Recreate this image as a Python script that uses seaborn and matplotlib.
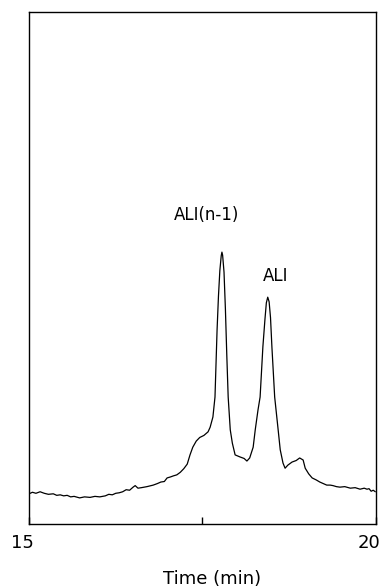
import pandas as pd
import matplotlib.pyplot as plt
import matplotlib.transforms as mtransforms
import seaborn as sns

# Datos del cromatograma
tiempo = [15.00, 15.05, 15.10, 15.16, 15.22, 15.28, 15.35, 15.40, 15.45, 15.50,
          15.55, 15.60, 15.65, 15.73, 15.80, 15.88, 15.95, 16.02, 16.10, 16.15,
          16.20, 16.25, 16.30, 16.35, 16.40, 16.45, 16.50, 16.53, 16.57, 16.62,
          16.70, 16.79, 16.85, 16.90, 16.95, 16.99, 17.04, 17.08, 17.13, 17.18,
          17.23, 17.28, 17.32, 17.36, 17.41, 17.46, 17.52, 17.58, 17.61, 17.65,
          17.68, 17.71, 17.73, 17.75, 17.77, 17.78, 17.79, 17.81, 17.83, 17.85,
          17.87, 17.90, 17.93, 17.97, 18.04, 18.10, 18.14, 18.18, 18.23, 18.26,
          18.30, 18.33, 18.37, 18.40, 18.42, 18.44, 18.46, 18.48, 18.50, 18.54,
          18.59, 18.62, 18.66, 18.69, 18.73, 18.79, 18.85, 18.90, 18.95, 18.98,
          19.03, 19.08, 19.14, 19.19, 19.24, 19.29, 19.34, 19.38, 19.43, 19.48,
          19.55, 19.63, 19.70, 19.77, 19.83, 19.87, 19.90, 19.93, 19.96, 19.99]
senal = [5.9, 6.2, 6.0, 6.3, 6.0, 5.8, 5.9, 5.6, 5.7, 5.5,
         5.6, 5.3, 5.4, 5.1, 5.3, 5.2, 5.4, 5.3, 5.5, 5.8,
         5.7, 6.0, 6.1, 6.3, 6.7, 6.6, 7.2, 7.5, 7.0, 7.1,
         7.3, 7.6, 7.9, 8.2, 8.3, 9.0, 9.2, 9.4, 9.6, 10.1,
         10.8, 11.7, 13.5, 15.0, 16.2, 16.9, 17.3, 18.0, 18.9, 20.9,
         24.8, 37.9, 44.5, 49.5, 52.4, 53.1, 52.5, 49.2, 42.0, 33.0,
         24.8, 18.4, 15.8, 13.5, 13.1, 12.8, 12.3, 12.9, 15.0, 18.4,
         22.3, 24.8, 34.6, 40.0, 43.2, 44.3, 43.4, 40.3, 34.6, 24.8,
         18.4, 14.5, 11.9, 10.9, 11.5, 12.1, 12.4, 12.9, 12.5, 10.9,
         9.8, 9.0, 8.6, 8.2, 7.9, 7.6, 7.6, 7.5, 7.3, 7.2,
         7.3, 7.0, 7.1, 6.8, 7.0, 6.8, 6.9, 6.4, 6.6, 6.3]

etiquetas = ['ALI(n-1)', 'ALI']
etiq_t = [17.56, 18.55]
etiq_s = [60.4, 48.4]

df = pd.DataFrame({'Tiempo': tiempo, 'Senal': senal})

sns.set_style('ticks')
plt.rcParams['font.family'] = ['DejaVu Sans']

fig = plt.figure(figsize=(3.82, 5.87), dpi=100)
ax = fig.add_axes([0.0759, 0.1073, 0.9084, 0.8723])

sns.lineplot(data=df, x='Tiempo', y='Senal', ax=ax, color='black', linewidth=0.9)

for texto, t, s in zip(etiquetas, etiq_t, etiq_s):
    ax.text(t, s, texto, ha='center', va='center', fontsize=12, color='black')

ax.set_xlim(15, 20)
ax.set_ylim(0, 100)
ax.set_xticks([15, 17.5, 20])
ax.set_xticklabels(['15', '', '20'], fontsize=13, color='black')
ax.set_yticks([])
ax.tick_params(axis='x', direction='in', length=5, width=1, pad=7.5, colors='black')

# las etiquetas del eje estan un poco corridas a la izquierda en el original
desplaz = mtransforms.ScaledTranslation(-0.07, 0, fig.dpi_scale_trans)
for lab in ax.get_xticklabels():
    lab.set_transform(lab.get_transform() + desplaz)

ax.set_xlabel('Time (min)', fontsize=13, color='black')
ax.xaxis.set_label_coords(0.527, -0.089)
ax.set_ylabel('')
for sp in ax.spines.values():
    sp.set_visible(True)
    sp.set_linewidth(1.0)
    sp.set_color('black')

fig.savefig('out.png', dpi=100)
